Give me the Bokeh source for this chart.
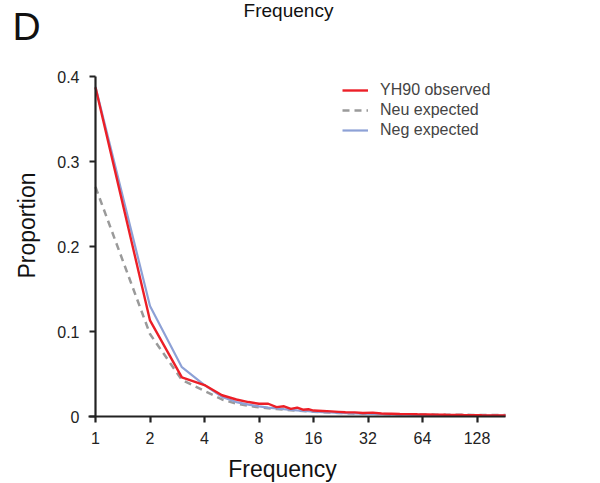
from bokeh.plotting import figure
from bokeh.models import Range1d, FixedTicker, Legend, LegendItem, BasicTickFormatter
from bokeh.core.properties import value
from bokeh.embed import file_html
from bokeh.resources import INLINE
import math

# ---- data ----
freq = [1, 2, 3, 4, 5, 6, 7, 8, 9, 10, 11, 12, 13, 14, 15, 16, 18, 20, 22, 24,
        27, 30, 34, 38, 43, 48, 54, 60, 68, 76, 86, 96, 108, 120, 136, 152, 168, 184]
yh90_observed = [0.387, 0.113, 0.046, 0.037, 0.025, 0.020, 0.017, 0.015, 0.015, 0.011,
                 0.012, 0.009, 0.0105, 0.008, 0.0085, 0.007, 0.0065, 0.006, 0.0055, 0.005,
                 0.0048, 0.0042, 0.0045, 0.0035, 0.0033, 0.0030, 0.0028, 0.0026, 0.0024, 0.0022,
                 0.0020, 0.0019, 0.0017, 0.0016, 0.0014, 0.0013, 0.0012, 0.0011]
neu_expected = [0.270, 0.097, 0.043, 0.030, 0.020, 0.015, 0.0125, 0.0108, 0.0097, 0.0088,
                0.0080, 0.0074, 0.0069, 0.0064, 0.0060, 0.0056, 0.0050, 0.0046, 0.0042, 0.0039,
                0.0036, 0.0033, 0.0031, 0.0029, 0.0027, 0.0026, 0.0025, 0.0024, 0.0023, 0.0022,
                0.0021, 0.0020, 0.0020, 0.0019, 0.0019, 0.0018, 0.0018, 0.0018]
neg_expected = [0.388, 0.130, 0.058, 0.037, 0.023, 0.017, 0.014, 0.012, 0.0105, 0.0095,
                0.0086, 0.0078, 0.0072, 0.0067, 0.0062, 0.0058, 0.0052, 0.0047, 0.0043, 0.0040,
                0.0036, 0.0033, 0.0030, 0.0027, 0.0025, 0.0023, 0.0021, 0.0019, 0.0017, 0.0016,
                0.0015, 0.0014, 0.0013, 0.0012, 0.0011, 0.0011, 0.0010, 0.0010]
x_ticks = [1, 2, 4, 8, 16, 32, 64, 128]
y_ticks = [0, 0.1, 0.2, 0.3, 0.4]
y_tick_labels = {0: "0", 0.1: "0.1", 0.2: "0.2", 0.3: "0.3", 0.4: "0.4"}
series_labels = ["YH90 observed", "Neu expected", "Neg expected"]
x_label = "Frequency"
y_label = "Proportion"
top_title = "Frequency"
panel_letter = "D"

FONT = "Liberation Sans"
W, H = 600, 483
# pixel layout of the plotting area (frame spans the whole canvas)
X0, PX_PER_OCT = 95.0, 54.5      # pixel of x=1, pixels per doubling
Y0, PX_PER_UNIT = 416.0, 850.0   # pixel of y=0, pixels per unit of proportion


def xd(px):
    return 2 ** ((px - X0) / PX_PER_OCT)


def yd(py):
    return (Y0 - py) / PX_PER_UNIT


p = figure(width=W, height=H, output_backend="svg", toolbar_location=None,
           x_axis_type="log", x_range=Range1d(xd(0), xd(W)), y_range=Range1d(yd(H), yd(0)),
           min_border_left=0, min_border_right=0, min_border_top=0, min_border_bottom=0)
p.outline_line_color = None
p.xgrid.visible = False
p.ygrid.visible = False
p.background_fill_color = "white"
p.border_fill_color = "white"

l_neu = p.line(freq, neu_expected, line_color="#9a9a9a", line_width=2.5, line_dash="7 5")
l_neg = p.line(freq, neg_expected, line_color="#8da1d6", line_width=2.2)
l_obs = p.line(freq, yh90_observed, line_color="#ec1f27", line_width=2.4)

for ax in (p.xaxis[0], p.yaxis[0]):
    ax.axis_line_width = 2.2
    ax.axis_line_color = "#222222"
    ax.major_tick_line_width = 2.2
    ax.major_tick_line_color = "#222222"
    ax.major_tick_out = 6
    ax.major_tick_in = 0
    ax.minor_tick_line_color = None
    ax.major_label_text_font = FONT
    ax.major_label_text_font_size = "16px"
    ax.major_label_text_color = "#222222"

p.xaxis.fixed_location = 0
p.xaxis.bounds = (xd(88), 184)
p.xaxis.ticker = FixedTicker(ticks=x_ticks)
p.xaxis.formatter = BasicTickFormatter()
p.xaxis.major_label_standoff = 9

p.yaxis.fixed_location = 1
p.yaxis.bounds = (0, 0.4)
p.yaxis.ticker = FixedTicker(ticks=y_ticks)
p.yaxis.major_label_overrides = y_tick_labels
p.yaxis.major_label_standoff = 10

legend = Legend(items=[LegendItem(label=series_labels[0], renderers=[l_obs]),
                       LegendItem(label=series_labels[1], renderers=[l_neu]),
                       LegendItem(label=series_labels[2], renderers=[l_neg])],
                location=(342, H - 140), padding=0, margin=0, spacing=0,
                glyph_width=26, glyph_height=20, label_height=20, label_standoff=12,
                label_text_font=FONT, label_text_font_size="16px",
                border_line_color=None, background_fill_alpha=0)
p.add_layout(legend)

# texts (glyphs inside the frame, which covers the whole canvas); anchored at text middle
p.text(x=[xd(288)], y=[yd(10)], text=[top_title], text_font=value(FONT),
       text_font_size="19px", text_align="center", text_baseline="middle",
       text_color="#111111")
p.text(x=[xd(12)], y=[yd(25.5)], text=[panel_letter], text_font=value(FONT),
       text_font_size="39px", text_align="left", text_baseline="middle",
       text_color="#111111")
p.text(x=[xd(282)], y=[yd(468)], text=[x_label], text_font=value(FONT),
       text_font_size="23px", text_align="center", text_baseline="middle",
       text_color="#111111")
p.text(x=[xd(26)], y=[yd(225)], text=[y_label], text_font=value(FONT),
       text_font_size="23px", text_align="center", text_baseline="middle",
       angle=math.pi / 2, text_color="#111111")

open("out.html", "w").write(file_html(p, INLINE))
